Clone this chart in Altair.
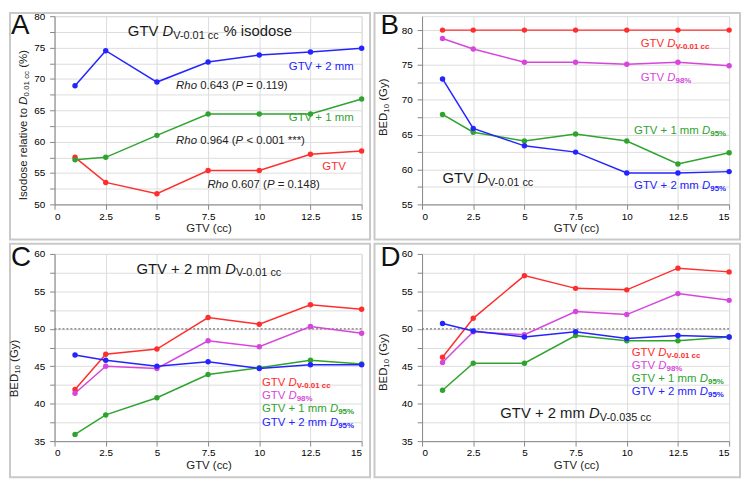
import altair as alt
import pandas as pd

FONT = "Liberation Sans"

# ---------------- data ----------------
gtv = [1, 2.5, 5, 7.5, 10, 12.5, 15]
x_ticks = [0, 2.5, 5, 7.5, 10, 12.5, 15]

# Panel A: isodose (%)
a_gtv = [57.5, 53.5, 51.7, 55.4, 55.4, 58.0, 58.5]
a_gtv1 = [57.1, 57.5, 61.0, 64.4, 64.4, 64.4, 66.8]
a_gtv2 = [68.9, 74.5, 69.5, 72.7, 73.8, 74.3, 74.9]

# Panel B: BED10 (Gy)
b_dv = [80.0, 80.0, 80.0, 80.0, 80.0, 80.0, 80.0]
b_d98 = [78.8, 77.3, 75.4, 75.4, 75.1, 75.4, 74.9]
b_gtv1 = [67.9, 65.35, 64.1, 65.1, 64.1, 60.8, 62.4]
b_gtv2 = [73.0, 65.9, 63.4, 62.5, 59.5, 59.5, 59.7]

# Panel C
c_dv = [41.9, 46.6, 47.3, 51.5, 50.6, 53.2, 52.6]
c_d98 = [41.4, 45.0, 44.7, 48.4, 47.6, 50.3, 49.4]
c_gtv1 = [35.9, 38.5, 40.8, 43.9, 44.8, 45.8, 45.3]
c_gtv2 = [46.5, 45.8, 45.0, 45.6, 44.7, 45.2, 45.2]

# Panel D
d_dv = [46.2, 51.4, 57.1, 55.4, 55.2, 58.1, 57.6]
d_d98 = [45.5, 49.6, 49.2, 52.3, 51.9, 54.7, 53.8]
d_gtv1 = [41.8, 45.4, 45.4, 49.1, 48.4, 48.4, 48.9]
d_gtv2 = [50.7, 49.7, 48.9, 49.6, 48.7, 49.1, 48.9]

ref_level = [50]

RED = "#ff2e2e"
MAG = "#d646dc"
GREEN = "#2ea42e"
BLUE = "#2424ff"
DARK = "#1a1a1a"

# ---------------- rich text helper ----------------
W = {' ': .278, '%': .889, '(': .333, ')': .333, '*': .389, '+': .584, '-': .333,
     '.': .278, '<': .584, '=': .584, 'A': .667, 'B': .667, 'C': .722, 'D': .722,
     'E': .667, 'G': .778, 'I': .278, 'P': .667, 'R': .722, 'T': .611, 'V': .667,
     'a': .556, 'c': .5, 'd': .556, 'e': .556, 'h': .556, 'i': .222, 'l': .222,
     'm': .833, 'o': .556, 'r': .333, 's': .5, 't': .278, 'v': .5, 'y': .5}


def tw(s, size):
    return sum(W.get(ch, 0.556) for ch in s) * size


def rich(segs, x, y, size, sub, color, align="left", angle=0, subweight="normal"):
    total = sum(tw(t, sub if k == "s" else size) for t, k in segs)
    off = -total if align == "right" else (-total / 2 if align == "center" else 0)
    marks = []
    for t, k in segs:
        fs = sub if k == "s" else size
        lead = len(t) - len(t.lstrip(" "))
        o = off + tw(" " * lead, fs)
        shift = size * 0.17 if k == "s" else 0
        if angle == 0:
            px, py = x + o, y + shift
        else:
            px, py = x + shift, y - o
        txt = t.strip(" ")
        if txt:
            marks.append(
                alt.Chart(pd.DataFrame({"t": [txt]}))
                .mark_text(align="left", baseline="alphabetic", font=FONT, fontSize=fs,
                           fontStyle="italic" if k == "i" else "normal",
                           fontWeight=subweight if k == "s" else "normal",
                           color=color, angle=angle)
                .encode(text="t:N", x=alt.value(px), y=alt.value(py))
            )
        off += tw(t, fs)
    return marks


def border(x1, x2, y1, y2):
    return alt.Chart(pd.DataFrame({"k": [0]})).mark_rect(
        fill="transparent", stroke="#c9c9c9", strokeWidth=2
    ).encode(x=alt.value(x1), x2=alt.value(x2), y=alt.value(y1), y2=alt.value(y2))


def panel(series, ydom, yvals, h, extra, rule=False):
    rows = []
    for name, vals, col in series:
        for xv, yv in zip(gtv, vals):
            rows.append({"gtv": xv, "v": yv, "s": name, "c": col})
    df = pd.DataFrame(rows)
    yscale = alt.Scale(domain=ydom, nice=False, zero=False)
    yaxis = alt.Axis(values=yvals, title=None, labelPadding=5, labelOverlap=False,
                     labelExpr="datum.value % 5 == 0 ? '' + datum.value : ''")
    base = alt.Chart(df).encode(
        x=alt.X("gtv:Q", scale=alt.Scale(domain=[0, 15], nice=False, zero=False),
                axis=alt.Axis(values=x_ticks, labelExpr="'' + datum.value", title=None,
                              labelPadding=2, labelOverlap=False)),
        y=alt.Y("v:Q", scale=yscale, axis=yaxis),
        color=alt.Color("c:N", scale=None, legend=None),
        detail="s:N",
    )
    layers = []
    if rule:
        layers.append(
            alt.Chart(pd.DataFrame({"v": ref_level})).mark_rule(
                color="#777", strokeDash=[2, 2], strokeWidth=1.2
            ).encode(y=alt.Y("v:Q", scale=yscale, axis=yaxis)))
    layers += [base.mark_line(strokeWidth=1.5),
               base.mark_circle(size=30, opacity=1)]
    layers += extra
    return alt.layer(*layers).properties(width=310, height=h)


def xtitle(h):
    return rich([("GTV (cc)", "n")], 156, h + 28, 11.5, 8, "#222", align="center")


def bed_title(x, y):
    return rich([("BED", "n"), ("10", "s"), (" (Gy)", "n")], x, y, 11.5, 8, "#222",
                align="center", angle=270)


def letter(ch, x, y):
    return rich([(ch, "n")], x, y, 28, 20, "#111")


# ---------------- panel A ----------------
extraA = [border(-45, 318.5, -3.3, 225.5)]
extraA += letter("A", -44, 18)
extraA += rich([("GTV ", "n"), ("D", "i"), ("V-0.01 cc", "s"), (" % isodose", "n")],
               74, 20, 15, 11, DARK)
extraA += rich([("GTV + 2 mm", "n")], 302, 54, 11.5, 8, BLUE, align="right")
extraA += rich([("Rho", "i"), (" 0.643 (", "n"), ("P", "i"), (" = 0.119)", "n")],
               122.7, 74, 11.5, 8, "#222")
extraA += rich([("GTV + 1 mm", "n")], 302, 106, 11.5, 8, GREEN, align="right")
extraA += rich([("Rho", "i"), (" 0.964 (", "n"), ("P", "i"), (" < 0.001 ***)", "n")],
               122.7, 129, 11.5, 8, "#222")
extraA += rich([("GTV", "n")], 294, 155, 11.5, 8, RED, align="right")
extraA += rich([("Rho", "i"), (" 0.607 (", "n"), ("P", "i"), (" = 0.148)", "n")],
               154.3, 173.5, 11.5, 8, "#222")
extraA += rich([("Isodose relative to ", "n"), ("D", "i"), ("0.01 cc", "s"), (" (%)", "n")],
               -28, 110, 11.5, 8, "#222", align="center", angle=270)
extraA += xtitle(190)

A = panel([("GTV", a_gtv, RED), ("GTV + 1 mm", a_gtv1, GREEN), ("GTV + 2 mm", a_gtv2, BLUE)],
          [50, 80], [50, 52.5, 55, 57.5, 60, 62.5, 65, 67.5, 70, 72.5, 75, 77.5, 80], 190, extraA)

# ---------------- panel B ----------------
extraB = [border(-48, 321, -3.3, 225.5)]
extraB += letter("B", -42, 18)
extraB += rich([("GTV ", "n"), ("D", "i"), ("V-0.01 cc", "s")], 220.7, 31, 11.5, 8, RED, subweight="bold")
extraB += rich([("GTV ", "n"), ("D", "i"), ("98%", "s")], 220.7, 65.4, 11.5, 8, MAG, subweight="bold")
extraB += rich([("GTV + 1 mm ", "n"), ("D", "i"), ("95%", "s")], 214, 119.4, 11.5, 8, GREEN, subweight="bold")
extraB += rich([("GTV + 2 mm ", "n"), ("D", "i"), ("95%", "s")], 214, 174.4, 11.5, 8, BLUE, subweight="bold")
extraB += rich([("GTV ", "n"), ("D", "i"), ("V-0.01 cc", "s")], 20.7, 168.4, 15, 11, DARK)
extraB += bed_title(-35.5, 92)
extraB += xtitle(190)

B = panel([("GTV Dv", b_dv, RED), ("GTV D98", b_d98, MAG), ("GTV+1 D95", b_gtv1, GREEN),
           ("GTV+2 D95", b_gtv2, BLUE)],
          [55, 82], [55, 57.5, 60, 62.5, 65, 67.5, 70, 72.5, 75, 77.5, 80], 190, extraB)


def legend4(x, y0, step):
    m = []
    m += rich([("GTV ", "n"), ("D", "i"), ("V-0.01 cc", "s")], x, y0, 11.5, 8, RED, subweight="bold")
    m += rich([("GTV ", "n"), ("D", "i"), ("98%", "s")], x, y0 + step, 11.5, 8, MAG, subweight="bold")
    m += rich([("GTV + 1 mm ", "n"), ("D", "i"), ("95%", "s")], x, y0 + 2 * step, 11.5, 8, GREEN, subweight="bold")
    m += rich([("GTV + 2 mm ", "n"), ("D", "i"), ("95%", "s")], x, y0 + 3 * step, 11.5, 8, BLUE, subweight="bold")
    return m


cd_ticks = [35, 37.5, 40, 42.5, 45, 47.5, 50, 52.5, 55, 57.5, 60]

# ---------------- panel C ----------------
extraC = [border(-45, 318.5, -10.3, 225.5)]
extraC += letter("C", -44, 12.7)
extraC += rich([("GTV + 2 mm ", "n"), ("D", "i"), ("V-0.01 cc", "s")], 82.7, 20, 15, 11, DARK)
extraC += legend4(209.3, 133, 13.5)
extraC += bed_title(-37, 115.7)
extraC += xtitle(189)

C = panel([("GTV Dv", c_dv, RED), ("GTV D98", c_d98, MAG), ("GTV+1 D95", c_gtv1, GREEN),
           ("GTV+2 D95", c_gtv2, BLUE)],
          [35, 60], cd_ticks, 189, extraC, rule=True)

# ---------------- panel D ----------------
extraD = [border(-48, 321, -10.3, 225.5)]
extraD += letter("D", -42, 12.7)
extraD += rich([("GTV + 2 mm ", "n"), ("D", "i"), ("V-0.035 cc", "s")], 79, 166, 15, 11, DARK)
extraD += legend4(211.7, 103.4, 13.1)
extraD += bed_title(-35.5, 109.4)
extraD += xtitle(189)

D = panel([("GTV Dv", d_dv, RED), ("GTV D98", d_d98, MAG), ("GTV+1 D95", d_gtv1, GREEN),
           ("GTV+2 D95", d_gtv2, BLUE)],
          [35, 60], cd_ticks, 189, extraD, rule=True)

chart = alt.concat(A, B, C, D, columns=2, spacing={"row": 50, "column": 61},
                   bounds="flush", padding=0).configure_view(
    fill="#efefef", stroke="transparent"
).configure_axis(
    grid=False, domainColor="#9a9a9a", tickColor="#9a9a9a", tickSize=3,
    labelFont=FONT, labelFontSize=10, labelColor="#555555", domainWidth=1
).configure(background="white")

chart.save("out.html", embed_options={"renderer": "svg", "actions": False})
